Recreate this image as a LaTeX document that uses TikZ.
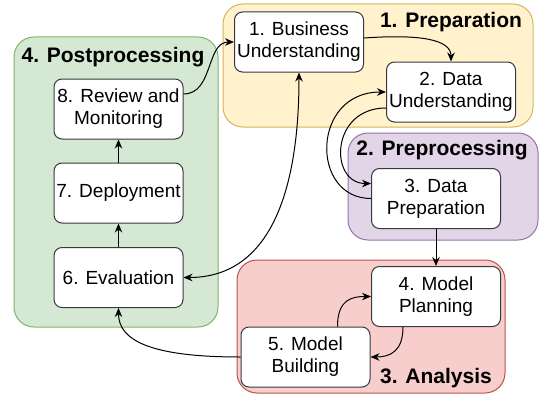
\documentclass[tikz,border=0pt]{standalone}
\usepackage{fontspec}
\setmainfont{Liberation Sans}
\usetikzlibrary{arrows.meta}
\definecolor{boxline}{HTML}{36393D}
\definecolor{grnfill}{HTML}{D5E8D4}
\definecolor{grnline}{HTML}{82B366}
\definecolor{ylwfill}{HTML}{FFF2CC}
\definecolor{ylwline}{HTML}{D6B656}
\definecolor{prpfill}{HTML}{E1D5E7}
\definecolor{prpline}{HTML}{9673A6}
\definecolor{redfill}{HTML}{F8CECC}
\definecolor{redline}{HTML}{B85450}

\begin{document}
\begin{tikzpicture}[x=1pt,y=-1pt]
    \tikzstyle{G}=[rounded corners=20pt,line width=1pt]
    \tikzstyle{S}=[rectangle,rounded corners=8pt,draw=boxline,fill=white,line width=1pt,minimum width=129pt,minimum height=60pt,inner sep=0pt,align=center,font=\fontsize{19}{22}\selectfont]
    \tikzstyle{T}=[inner sep=0pt,font=\fontsize{21}{24}\selectfont\bfseries]
    \tikzstyle{A}=[-{Stealth[length=9pt,width=7.5pt]},line width=1pt]

    \useasboundingbox (0,0) rectangle (540,396);

    % Draw phase groups
    \draw [G,draw=grnline,fill=grnfill] (14,37) rectangle (218,327);
    \draw [G,draw=ylwline,fill=ylwfill] (223,4) rectangle (533,127);
    \draw [G,draw=prpline,fill=prpfill] (348,133) rectangle (538,240);
    \draw [G,draw=redline,fill=redfill] (237,260) rectangle (505,393);

    \node [T] (tpost) at (113,57) {4. Postprocessing};
    \node [T] (tprep) at (451,22) {1. Preparation};
    \node [T] (tpre)  at (442,150) {2. Preprocessing};
    \node [T] (tana)  at (436,378) {3. Analysis};

    % Steps
    \node [S] (bu) at (299,42)    {1. Business\\Understanding};
    \node [S] (du) at (451,92)    {2. Data\\Understanding};
    \node [S] (dp) at (436,198.5) {3. Data\\Preparation};
    \node [S] (mp) at (436,296.5) {4. Model\\Planning};
    \node [S] (mb) at (305.5,357) {5. Model\\Building};
    \node [S] (ev) at (118.5,277.5) {6. Evaluation};
    \node [S] (de) at (118.5,193) {7. Deployment};
    \node [S] (rm) at (118.5,109) {8. Review and\\Monitoring};

    % Connections
    \draw [A] ([yshift=15pt]rm.east) .. controls +(30,0) and +(-28,0) .. (bu.west);
    \draw [A] ([yshift=4pt]bu.east) .. controls +(56,-4) and +(0,-22) .. (du.north);
    \draw [A] ([yshift=-16pt]du.west) .. controls +(-56,0) and +(-42,0) .. ([yshift=15pt]dp.west);
    \draw [A] (dp.west) .. controls +(-61,0) and +(-75,0) .. (du.west);
    \draw [A] (dp.south) -- (mp.north);
    \draw [A] ([xshift=32pt]mb.north) .. controls +(0,-28) and +(-18,0) .. (mp.west);
    \draw [A] ([xshift=-33pt]mp.south) .. controls +(0,24) and +(20,0) .. (mb.east);
    \draw [A] (mb.west) .. controls +(-91,0) and +(0,32) .. (ev.south);
    \draw [{Stealth[length=9pt,width=7.5pt]}-{Stealth[length=9pt,width=7.5pt]},line width=1pt] (ev.east) .. controls +(87,0) and +(0,118) .. (bu.south);
    \draw [A] (ev.north) -- (de.south);
    \draw [A] (de.north) -- (rm.south);
\end{tikzpicture}
\end{document}
